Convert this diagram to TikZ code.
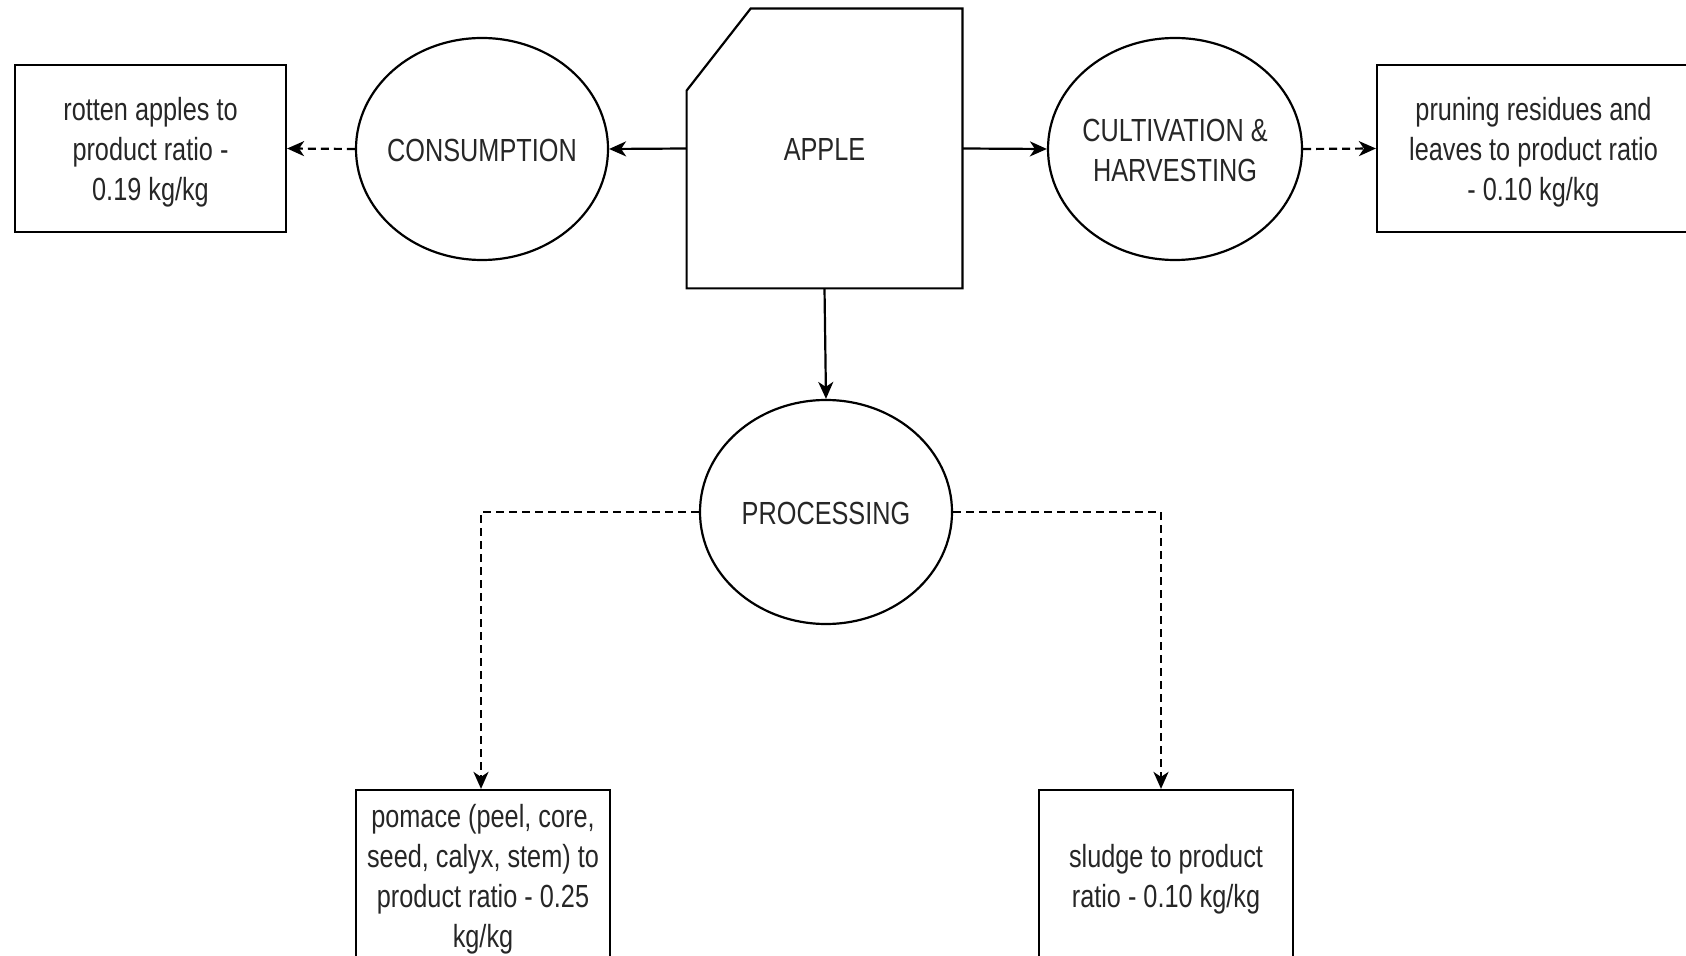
\documentclass[tikz,border=0pt]{standalone}
\usepackage{fontspec}
\setmainfont{Liberation Sans}[FakeStretch=0.79]
\usetikzlibrary{arrows.meta, shapes.geometric}

% centred label that does not widen its node, set a little low in it
\newcommand{\flatlabel}[1]{\raisebox{-2.2pt}[\height][\depth]{\makebox[0pt]{\begin{tabular}{@{}c@{}}#1\end{tabular}}}}

\tikzset{
  every node/.style={font=\fontsize{16}{20}\selectfont, text=black!85, align=center},
  stage/.style={draw, ellipse, line width=1.1pt, minimum width=126pt, minimum height=111pt, inner sep=0pt},
  wastebox/.style={draw, rectangle, line width=1.1pt, inner sep=0pt},
  flow/.style={line width=1.1pt, -{Stealth[length=8.5pt, width=7.5pt, inset=2.5pt]}},
  byproduct/.style={flow, dash pattern=on 4pt off 2.5pt},
}

\begin{document}
\begin{tikzpicture}[x=0.5pt, y=-0.5pt]
  \useasboundingbox (0,0) rectangle (1686,956);
  \clip (0,0) rectangle (1686,956);

  % central product
  \node (apple) [minimum width=137.5pt, minimum height=139.5pt, inner sep=0pt] at (824.5,148.5) {\flatlabel{APPLE}};
  \draw[line width=1.1pt] (apple.south west) -- ([yshift=-41pt]apple.north west)
    -- ([xshift=32pt]apple.north west) -- (apple.north east) -- (apple.south east) -- cycle;

  % life-cycle stages
  \node (cons) [stage] at (482,149) {\flatlabel{CONSUMPTION}};
  \node (cult) [stage, minimum width=127pt] at (1175,149) {\flatlabel{CULTIVATION \&\\HARVESTING}};
  \node (proc) [stage, minimum height=112pt] at (826,512) {\flatlabel{PROCESSING}};

  % waste streams
  \node (rot) [wastebox, minimum width=135.5pt, minimum height=83.5pt] at (150.5,148.5)
    {\flatlabel{rotten apples to\\product ratio -\\0.19 kg/kg}};
  \node (prun) [wastebox, minimum width=156.5pt, minimum height=83.5pt] at (1533.5,148.5)
    {\flatlabel{pruning residues and\\leaves to product ratio\\- 0.10 kg/kg}};
  \node (pom) [wastebox, minimum width=127pt, minimum height=85pt] at (483,875)
    {\flatlabel{pomace (peel, core,\\seed, calyx, stem) to\\product ratio - 0.25\\kg/kg}};
  \node (slu) [wastebox, minimum width=127pt, minimum height=85pt] at (1166,875)
    {\flatlabel{sludge to product\\ratio - 0.10 kg/kg}};

  % main flows
  \draw[flow] (apple.west) -- (cons.east);
  \draw[flow] (apple.east) -- (cult.west);
  \draw[flow] (apple.south) -- (proc.north);

  % by-product flows
  \draw[byproduct] (cons.west) -- (rot.east);
  \draw[byproduct] (cult.east) -- (prun.west);
  \draw[byproduct] (proc.west) -| ([xshift=-1pt]pom.north);
  \draw[byproduct] (proc.east) -| ([xshift=-2.5pt]slu.north);
\end{tikzpicture}
\end{document}
